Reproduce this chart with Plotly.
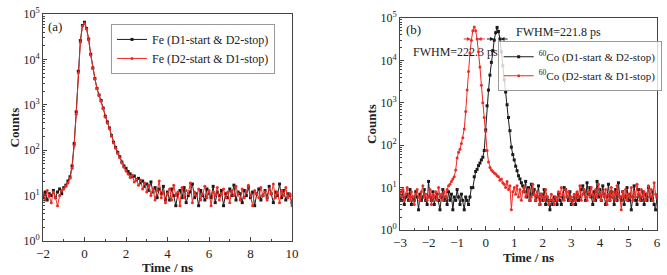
import numpy as np
import plotly.graph_objects as go

# ---------------- Panel (a): Fe ----------------
t0_a, dt_a = -2.0, 0.1
fe_d1d2 = [9, 12, 8, 11, 10, 13, 9, 12, 14, 11,
           15, 17, 21, 26, 45, 140, 700, 5500, 26000, 56000,
           66000, 48000, 28000, 13000, 6500, 3800, 2300, 1650, 1250, 850,
           560, 420, 310, 210, 150, 115, 90, 72, 55, 45,
           40, 34, 30, 26, 27, 22, 24, 19, 21, 16,
           18, 13, 20, 12, 15, 9, 14, 11, 16, 8,
           12, 8, 14, 10, 6, 11, 13, 9, 15, 7,
           10, 12, 18, 9, 11, 6, 13, 10, 8, 14,
           11, 9, 16, 7, 12, 10, 13, 6, 11, 9,
           14, 10, 17, 8, 12, 11, 7, 13, 10, 15,
           9, 12, 6, 11, 14, 8, 10, 13, 9, 16,
           11, 7, 12, 10, 18, 9, 13, 8, 11, 10, 7]
fe_d2d1 = [11, 8, 13, 10, 7, 12, 9, 6, 10, 13,
           14, 16, 19, 24, 40, 125, 620, 5000, 24000, 54000,
           62000, 47000, 27000, 12500, 6300, 3700, 2250, 1600, 1200, 820,
           540, 400, 300, 205, 145, 110, 85, 68, 52, 42,
           35, 30, 25, 28, 20, 23, 17, 22, 14, 19,
           12, 17, 10, 14, 8, 13, 21, 9, 12, 7,
           11, 14, 8, 17, 10, 12, 6, 15, 9, 13,
           11, 19, 7, 12, 10, 14, 8, 11, 16, 9,
           13, 6, 12, 10, 15, 8, 11, 14, 9, 12,
           7, 13, 10, 16, 11, 8, 14, 9, 12, 17,
           10, 6, 13, 11, 9, 15, 10, 12, 8, 14,
           11, 18, 9, 12, 7, 13, 10, 15, 9, 11, 6]

# ---------------- Panel (b): 60Co ----------------
t0_b, dt_b = -3.0, 0.05
co_d1d2 = [6, 5, 8, 4, 6, 7, 5, 9, 4, 6,
           5, 8, 6, 3, 7, 5, 6, 9, 5, 4,
           14, 6, 5, 8, 4, 6, 7, 5, 3, 6,
           9, 5, 6, 4, 8, 5, 7, 3, 6, 5,
           9, 6, 4, 7, 5, 3, 6, 5, 4, 6,
           10, 10, 18, 24, 27, 33, 38, 45, 52, 75,
           230, 850, 2000, 4500, 9000, 17000, 30000, 45000, 60000, 48000,
           32000, 16000, 7500, 3500, 1800, 900, 450, 220, 90, 60,
           45, 32, 25, 19, 16, 13,
           11, 8, 14, 6, 10, 5, 12, 7, 9, 5,
           6, 11, 4, 7, 5, 9, 4, 6, 5, 3,
           5, 4, 6, 5, 4, 7, 5, 4, 6, 10,
           9, 6, 5, 8, 4, 5, 6, 4, 7, 5,
           6, 9, 11, 8, 5, 13, 7, 10, 6, 4,
           8, 5, 14, 6, 9, 5, 11, 7, 4, 6,
           12, 5, 8, 6, 4, 9, 5, 13, 6, 5,
           8, 4, 6, 10, 5, 7, 3, 6, 11, 5,
           4, 9, 6, 5, 8, 4, 7, 5, 10, 6,
           5, 8, 4, 3, 6]
co_d2d1 = [8, 6, 9, 5, 7, 10, 6, 5, 8, 6,
           4, 7, 9, 6, 5, 8, 11, 6, 7, 5,
           6, 9, 4, 7, 6, 8, 5, 10, 6, 7,
           5, 8, 6,
           9, 11, 12, 14, 16, 18, 26,
           50, 68, 80, 110, 150, 240, 620, 2000, 5500, 15000,
           30000, 50000, 61000, 50000, 32000, 16000, 7000, 2600, 1000, 450,
           210, 75, 40, 30, 26, 24, 22, 21, 19, 18,
           15, 16, 13, 12, 10, 14, 9, 11, 3, 8, 10,
           7, 11, 6, 9, 5, 8, 10, 6, 7, 9,
           5, 6, 12, 7, 5, 8, 6, 4, 7, 6,
           5, 9, 6, 4, 5, 7, 5, 4, 6, 5,
           8, 6, 10, 7, 5, 9, 6, 8, 5, 6,
           4, 7, 5, 8, 6, 11, 5, 7, 9, 6,
           5, 8, 6, 10, 7, 5, 9, 6, 12, 7,
           5, 8, 6, 9, 4, 7, 5, 10, 6, 8,
           5, 11, 7, 6, 3, 8, 6, 9, 5, 7,
           6, 10, 5, 8, 6, 12, 7, 5, 9, 6,
           8, 5, 7, 11, 6, 9, 5, 13, 7, 6]

# FWHM values and half-max marker positions (ns) for panel (b)
fwhm_black = "FWHM=221.8 ps"
fwhm_red = "FWHM=222.3 ps"
half_black = (0.29, 0.52)
half_red = (-0.52, -0.28)
half_level = 3.2e4

y_tickvals = [1, 10, 100, 1000, 10000, 100000]
y_ticktext = ["10<sup>%d</sup>" % k for k in range(6)]
minor_vals = [m * 10 ** k for k in range(5) for m in range(2, 10)]

t_a = t0_a + dt_a * np.arange(len(fe_d1d2))
t_a2 = t0_a + dt_a * np.arange(len(fe_d2d1))
t_b = t0_b + dt_b * np.arange(len(co_d1d2))
t_b2 = t0_b + dt_b * np.arange(len(co_d2d1))

BLACK = "#1a1a1a"
RED = "#ee2a24"
FONT = "Liberation Serif"

fig = go.Figure()
fig.add_trace(go.Scatter(x=t_a, y=fe_d1d2, mode="lines+markers", name="Fe (D1-start & D2-stop)",
                         line=dict(color=BLACK, width=1), marker=dict(symbol="square", size=3, color=BLACK),
                         xaxis="x", yaxis="y", legend="legend"))
fig.add_trace(go.Scatter(x=t_a2, y=fe_d2d1, mode="lines+markers", name="Fe (D2-start & D1-stop)",
                         line=dict(color=RED, width=1), marker=dict(symbol="circle", size=3, color=RED),
                         xaxis="x", yaxis="y", legend="legend"))
fig.add_trace(go.Scatter(x=t_b, y=co_d1d2, mode="lines+markers", name="<sup>60</sup>Co (D1-start & D2-stop)",
                         line=dict(color=BLACK, width=1), marker=dict(symbol="square", size=3, color=BLACK),
                         xaxis="x2", yaxis="y2", legend="legend2"))
fig.add_trace(go.Scatter(x=t_b2, y=co_d2d1, mode="lines+markers", name="<sup>60</sup>Co (D2-start & D1-stop)",
                         line=dict(color=RED, width=1), marker=dict(symbol="circle", size=3, color=RED),
                         xaxis="x2", yaxis="y2", legend="legend2"))

axis_common = dict(showline=True, linecolor="#444", linewidth=1, mirror=True, ticks="inside",
                   tickcolor="#444", ticklen=4, showgrid=False, zeroline=False, automargin=False,
                   ticklabeloverflow="allow",
                   tickfont=dict(family=FONT, size=13, color="#222"))
yax = dict(axis_common, type="log", range=[0, 5], tickvals=y_tickvals, ticktext=y_ticktext,
           tickfont=dict(family=FONT, size=12, color="#222"),
           minor=dict(ticks="inside", ticklen=2, tickvals=minor_vals, tickcolor="#444"),
           title=dict(text="<b>Counts</b>", font=dict(family=FONT, size=13, color="#222"), standoff=0))

fig.update_layout(
    width=667, height=275, margin=dict(l=0, r=0, t=0, b=0, autoexpand=False),
    plot_bgcolor="white", paper_bgcolor="white",
    xaxis=dict(axis_common, domain=[0.0645, 0.4378], range=[-2, 10], dtick=2, anchor="y",
               minor=dict(ticks="inside", ticklen=2, dtick=1, tickcolor="#444"),
               title=dict(text="<b>Time / ns</b>", font=dict(family=FONT, size=13, color="#222"), standoff=4)),
    yaxis=dict(yax, domain=[0.1236, 0.949], anchor="x"),
    xaxis2=dict(axis_common, domain=[0.5997, 0.985], range=[-3, 6], dtick=1, anchor="y2",
                minor=dict(ticks="inside", ticklen=2, dtick=0.5, tickcolor="#444"),
                title=dict(text="<b>Time / ns</b>", font=dict(family=FONT, size=13, color="#222"), standoff=2)),
    yaxis2=dict(yax, domain=[0.1636, 0.9345], anchor="x2"),
    legend=dict(x=0.1664, y=0.913, xanchor="left", yanchor="top", bordercolor="#999", borderwidth=1,
                bgcolor="white", font=dict(family=FONT, size=12, color="#222"), itemwidth=30,
                tracegroupgap=0),
    legend2=dict(x=0.992, y=0.85, xanchor="right", yanchor="top", bordercolor="#999", borderwidth=1,
                 bgcolor="rgba(255,255,255,0.8)", font=dict(family=FONT, size=11, color="#222"), itemwidth=30,
                 tracegroupgap=0),
    showlegend=True,
)

ann_font = dict(family=FONT, size=12, color="#222")
fig.add_annotation(text="(a)", xref="x domain", yref="y domain", x=0.01, y=0.985, xanchor="left",
                   yanchor="top", showarrow=False, font=dict(ann_font, size=13))
fig.add_annotation(text="(b)", xref="x2 domain", yref="y2 domain", x=0.015, y=0.99, xanchor="left",
                   yanchor="top", showarrow=False, font=dict(ann_font, size=13))
fig.add_annotation(text=fwhm_black, xref="x2", yref="y2", x=1.0, y=4.67, xanchor="left",
                   yanchor="middle", showarrow=False, font=ann_font)
fig.add_annotation(text=fwhm_red, xref="x2", yref="y2", x=-2.62, y=4.2, xanchor="left",
                   yanchor="middle", showarrow=False, font=ann_font)

ly = np.log10(half_level)
for (lo, hi), col in ((half_black, BLACK), (half_red, RED)):
    fig.add_annotation(x=lo, y=ly, ax=lo - 0.3, ay=ly, xref="x2", yref="y2", axref="x2", ayref="y2",
                       showarrow=True, arrowhead=2, arrowsize=0.8, arrowwidth=1, arrowcolor=col, text="")
    fig.add_annotation(x=hi, y=ly, ax=hi + 0.3, ay=ly, xref="x2", yref="y2", axref="x2", ayref="y2",
                       showarrow=True, arrowhead=2, arrowsize=0.8, arrowwidth=1, arrowcolor=col, text="")

# remove the browser's default 8 px body margin so the figure fills the window exactly
fig.write_html("out.html", config={"displayModeBar": False},
               post_script="document.body.style.margin='0';")
